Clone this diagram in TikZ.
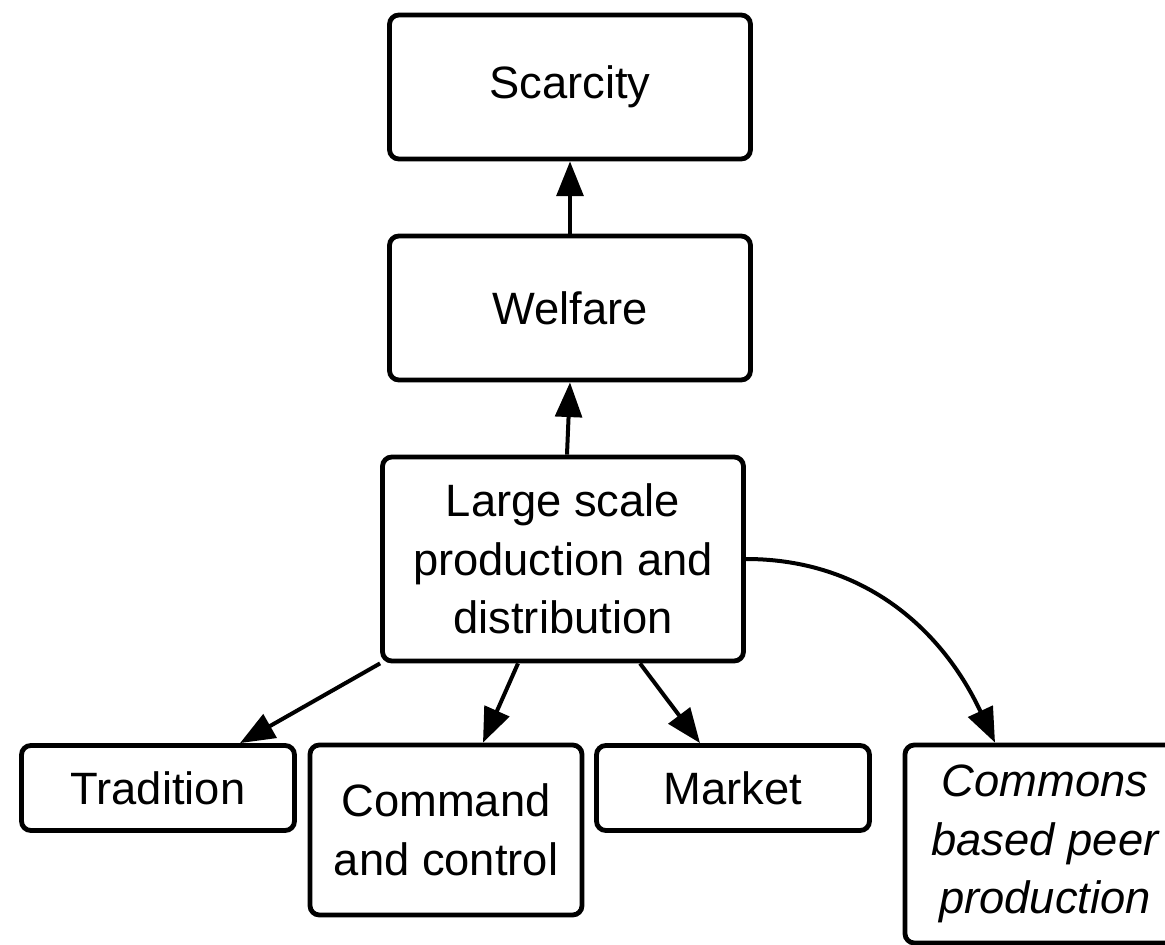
\documentclass[tikz,border=0pt]{standalone}
\usepackage{fontspec}
\setmainfont{Liberation Sans}
\usetikzlibrary{arrows.meta,positioning,calc}

\begin{document}
\begin{tikzpicture}[
  x=0.75pt, y=-0.75pt,
  >={Triangle[length=26pt,width=20pt]},
  box/.style={draw, line width=3.6pt, rounded corners=7pt, align=center,
    inner sep=0pt, font=\fontsize{34}{44}\selectfont},
  link/.style={draw, line width=3pt, ->},
]
  \useasboundingbox (0,0) rectangle (1165,945);
  \node[box, minimum width=270.75pt, minimum height=108pt] (scarcity) at (570,87) {Scarcity};
  \node[box, minimum width=270.75pt, minimum height=108pt] (welfare) at (570,308) {Welfare};
  \node[box, minimum width=270.75pt, minimum height=153pt] (large) at (563,559)
    {Large scale\\production and\\distribution};
  \node[box, minimum width=204.75pt, minimum height=63.75pt] (tradition) at (158,788) {Tradition};
  \node[box, minimum width=204pt, minimum height=127.5pt] (command) at (446,830) {Command\\and control};
  \node[box, minimum width=204.75pt, minimum height=63.75pt] (market) at (733,788) {Market};
  \node[box, minimum width=210pt, minimum height=148.5pt] (commons) at (1045,844)
    {\itshape Commons\\\itshape based peer\\\itshape production};
  % connectors
  \draw[link] (welfare.north) -- (scarcity.south);
  \draw[link] ($(large.north)+(4,0)$) -- (welfare.south);
  \draw[link] (large.south west) -- ($(tradition.north)+(82,0)$);
  \draw[link] ($(large.south)+(-45,0)$) -- ($(command.north)+(37,0)$);
  \draw[link] ($(large.south)+(77,0)$) -- ($(market.north)+(-33,0)$);
  \draw[link] (large.east) to[out=0, in=115] ($(commons.north)+(-50,0)$);
\end{tikzpicture}
\end{document}
